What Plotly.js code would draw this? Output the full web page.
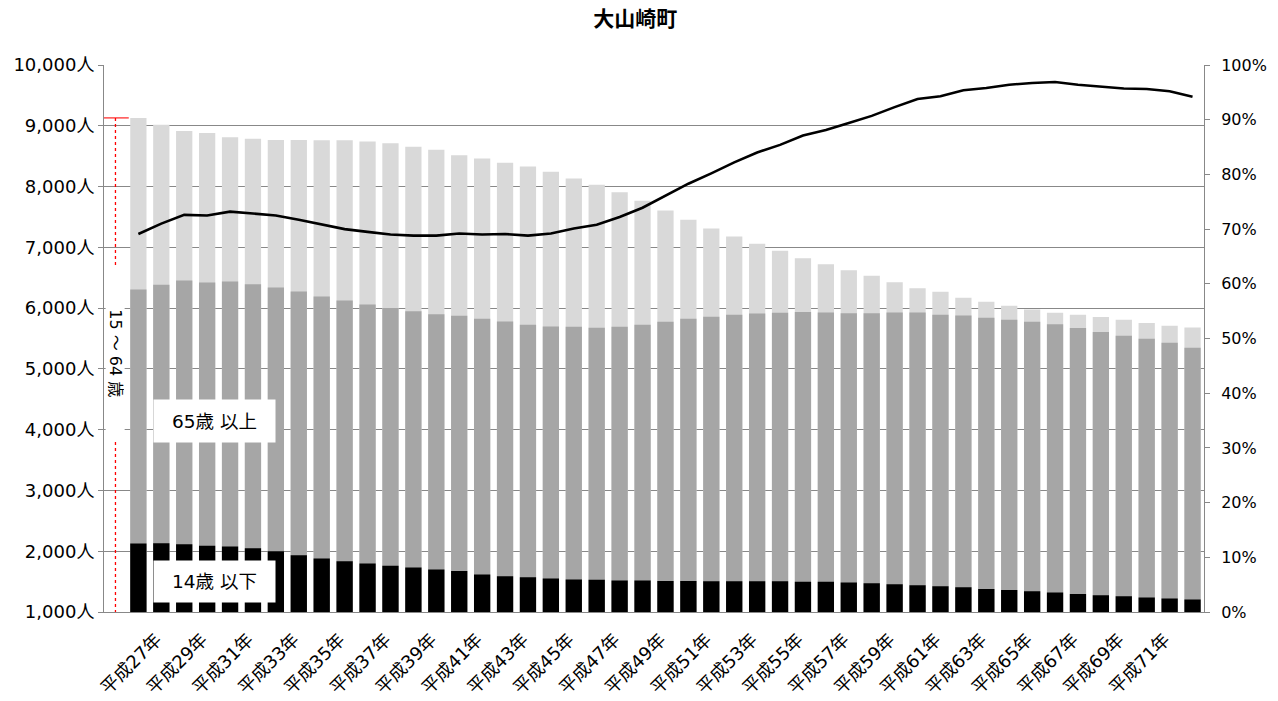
<!DOCTYPE html>
<html>
<head>
<meta charset="utf-8">
<script src="https://cdn.plot.ly/plotly-3.0.1.min.js"></script>
<style>html,body{margin:0;padding:0;background:#fff;}#chart{width:1278px;height:701px;}</style>
</head>
<body>
<div id="chart"></div>
<script>
// category labels (first category is the blank slot holding the 15～64歳 marker)
const blankCat = " ";
const years = ["平成27年","平成28年","平成29年","平成30年","平成31年","平成32年","平成33年","平成34年","平成35年","平成36年",
  "平成37年","平成38年","平成39年","平成40年","平成41年","平成42年","平成43年","平成44年","平成45年","平成46年",
  "平成47年","平成48年","平成49年","平成50年","平成51年","平成52年","平成53年","平成54年","平成55年","平成56年",
  "平成57年","平成58年","平成59年","平成60年","平成61年","平成62年","平成63年","平成64年","平成65年","平成66年",
  "平成67年","平成68年","平成69年","平成70年","平成71年","平成72年","平成73年"];
const tickLabels = ["平成27年","平成29年","平成31年","平成33年","平成35年","平成37年","平成39年","平成41年","平成43年","平成45年",
  "平成47年","平成49年","平成51年","平成53年","平成55年","平成57年","平成59年","平成61年","平成63年","平成65年",
  "平成67年","平成69年","平成71年"];
// 15～64歳 (light grey bars)
const pop15to64 = [9130,9015,8916,8883,8812,8785,8768,8768,8763,8763,
  8741,8713,8653,8604,8516,8461,8390,8329,8242,8132,
  8028,7907,7765,7606,7452,7310,7178,7058,6942,6822,
  6723,6624,6531,6427,6328,6268,6169,6104,6038,5978,
  5923,5890,5852,5808,5753,5709,5682];
// 14歳以下 + 65歳以上 (top of the mid grey bars)
const popDependent = [6306,6383,6454,6422,6438,6394,6339,6274,6191,6125,
  6060,6000,5950,5901,5876,5824,5780,5725,5698,5692,
  5676,5692,5725,5775,5824,5857,5890,5912,5923,5934,
  5928,5917,5917,5928,5928,5890,5879,5840,5808,5775,
  5736,5671,5605,5544,5495,5429,5347];
// 14歳以下 (black bars)
const popUnder15 = [2126,2132,2115,2088,2077,2049,2000,1934,1879,1836,
  1797,1759,1731,1699,1676,1616,1589,1572,1550,1534,
  1529,1518,1518,1512,1512,1507,1507,1507,1507,1496,
  1496,1485,1474,1457,1441,1424,1408,1380,1364,1342,
  1320,1298,1276,1260,1238,1222,1205];
// ratio line (right axis, %)
const ratioPct = [69.1,71.0,72.6,72.5,73.2,72.9,72.5,71.7,70.8,70.0,
  69.5,69.0,68.8,68.8,69.2,69.0,69.1,68.8,69.2,70.1,
  70.8,72.2,73.9,76.1,78.3,80.2,82.2,84.0,85.4,87.1,
  88.1,89.4,90.7,92.3,93.8,94.3,95.4,95.8,96.4,96.7,
  96.9,96.4,96.0,95.7,95.6,95.2,94.2];
const axisMin = 1000;

const FONT = "DejaVu Sans, 'Noto Sans CJK JP', sans-serif";
const GRID = "#888888";
const cats = [blankCat].concat(years);

const traces = [
  {type:"bar", x:years, y:pop15to64, name:"15～64歳", marker:{color:"#d9d9d9"}, hoverinfo:"x+y"},
  {type:"bar", x:years, y:popDependent, name:"65歳以上", marker:{color:"#a6a6a6"}, hoverinfo:"x+y"},
  {type:"bar", x:years, y:popUnder15, name:"14歳以下", marker:{color:"#000000"}, hoverinfo:"x+y"},
  {type:"scatter", mode:"lines", x:years, y:ratioPct, yaxis:"y2", line:{color:"#000000", width:2.6}, hoverinfo:"x+y"},
  {type:"scatter", mode:"lines+markers", x:[blankCat, blankCat], y:[pop15to64[0], axisMin],
   line:{color:"#ff0000", width:1.3, dash:"dot"},
   marker:{symbol:"line-ew", size:[19,0], color:"#ff0000", line:{color:"#ff0000", width:1.5}}, hoverinfo:"skip"}
];

const layout = {
  width:1278, height:701,
  margin:{l:104, r:74, t:65, b:88.5},
  paper_bgcolor:"#ffffff", plot_bgcolor:"#ffffff",
  showlegend:false,
  barmode:"overlay", bargap:0.29,
  font:{family:FONT, size:16, color:"#000000"},
  title:{text:"<b>大山崎町</b>", font:{family:"'Noto Sans CJK JP', sans-serif", size:21, color:"#000"},
         x:0.497, xref:"container", xanchor:"center", y:1-18.5/701, yref:"container", yanchor:"middle"},
  xaxis:{type:"category", categoryorder:"array", categoryarray:cats, range:[-0.5, cats.length-0.5],
         tickmode:"array", tickvals:tickLabels, ticktext:tickLabels, tickangle:-45,
         ticks:"outside", ticklen:9, tickcolor:"rgba(0,0,0,0)", ticklabelshift:18,
         showline:true, linecolor:GRID, linewidth:1, showgrid:false, zeroline:false,
         tickfont:{family:FONT, size:18}},
  xaxis2:{type:"linear", overlaying:"x", anchor:"y", side:"bottom", range:[0, cats.length], tick0:0, dtick:1,
          ticks:"outside", ticklen:5, tickcolor:GRID, showticklabels:false, showgrid:false, zeroline:false, showline:false},
  yaxis:{range:[1000,10000], dtick:1000, tick0:0, tickformat:",d", ticksuffix:"人",
         showgrid:true, gridcolor:GRID, gridwidth:1, zeroline:false,
         showline:true, linecolor:GRID, ticks:"outside", ticklen:5, tickcolor:GRID,
         tickfont:{family:FONT, size:18}},
  yaxis2:{overlaying:"y", side:"right", range:[0,100], dtick:10, ticksuffix:"%",
          showgrid:false, zeroline:false, showline:true, linecolor:GRID, ticks:"outside", ticklen:5, tickcolor:GRID,
          ticklabelstandoff:8, tickfont:{family:FONT, size:16}},
  annotations:[
    {x:0, y:5250, xref:"x", yref:"y", text:"15 ～ 64 歳", showarrow:false, textangle:90,
     bgcolor:"#ffffff", width:172, height:18, borderpad:0, font:{family:FONT, size:16}},
    {x:4.34, y:4135, xref:"x", yref:"y", text:"65歳 以上", showarrow:false,
     bgcolor:"#ffffff", width:121, height:42, borderpad:0, font:{family:FONT, size:18.5}},
    {x:4.34, y:1495, xref:"x", yref:"y", text:"14歳 以下", showarrow:false,
     bgcolor:"#ffffff", width:121, height:41, borderpad:0, font:{family:FONT, size:18.5}}
  ]
};

Plotly.newPlot("chart", traces, layout, {staticPlot:true, displayModeBar:false});
</script>
</body>
</html>
